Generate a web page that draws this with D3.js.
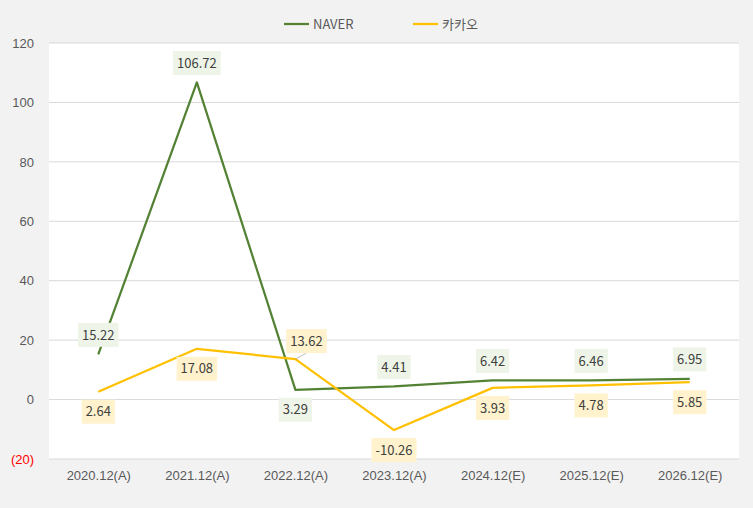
<!DOCTYPE html>
<html><head><meta charset="utf-8">
<script src="https://cdn.jsdelivr.net/npm/d3@7"></script>
<style>
html,body{margin:0;padding:0;background:#f2f2f2;}
svg{display:block;font-family:"Noto Sans CJK KR","Noto Sans",sans-serif;}
</style></head>
<body>
<svg id="chart" width="753" height="508"></svg>
<script>
const categories = ["2020.12(A)","2021.12(A)","2022.12(A)","2023.12(A)","2024.12(E)","2025.12(E)","2026.12(E)"];
const naver = [15.22, 106.72, 3.29, 4.41, 6.42, 6.46, 6.95];
const kakao = [2.64, 17.08, 13.62, -10.26, 3.93, 4.78, 5.85];
const seriesNames = ["NAVER", "카카오"];
const yTicks = [-20, 0, 20, 40, 60, 80, 100, 120];
const naverPlace = ["above","above","below","above","above","above","above"];
const kakaoPlace = ["below","below","above-right","below","below","below","below"];

const svg = d3.select("#chart");
const W = 753, H = 508;
const m = {left:49, right:14, top:43, bottom:49};
const x = d3.scalePoint().domain(categories).range([m.left, W - m.right]).padding(0.5);
const y = d3.scaleLinear().domain([-20, 120]).range([H - m.bottom, m.top]);

svg.append("rect").attr("x", m.left).attr("y", m.top)
  .attr("width", W - m.left - m.right).attr("height", H - m.top - m.bottom).attr("fill", "#fff");

// grid
svg.append("g").selectAll("line").data(yTicks).join("line")
  .attr("x1", m.left).attr("x2", W - m.right)
  .attr("y1", d => y(d)).attr("y2", d => y(d))
  .attr("stroke", "#d9d9d9").attr("stroke-width", 1);

// y axis
const yAxis = d3.axisLeft(y).tickValues(yTicks).tickSize(0).tickPadding(15)
  .tickFormat(d => d < 0 ? "(" + Math.abs(d) + ")" : d);
const ya = svg.append("g").attr("transform", `translate(${m.left},0)`).call(yAxis);
ya.select(".domain").remove();
ya.selectAll("text").attr("font-size", 13).attr("font-family", "inherit")
  .attr("fill", d => d < 0 ? "#ff0000" : "#595959");

// x axis
const xAxis = d3.axisBottom(x).tickSize(0).tickPadding(12);
const xa = svg.append("g").attr("transform", `translate(0,${H - m.bottom})`).call(xAxis);
xa.select(".domain").remove();
xa.selectAll("text").attr("font-size", 13).attr("font-family", "inherit").attr("fill", "#595959");

const series = [
  {name: seriesNames[0], values: naver, color: "#548235", bg: "#eef5e8", place: naverPlace},
  {name: seriesNames[1], values: kakao, color: "#ffc000", bg: "#fff2cc", place: kakaoPlace}
];

const line = d3.line().x((d, i) => x(categories[i])).y(d => y(d));
series.forEach(s => {
  svg.append("path").datum(s.values).attr("d", line)
    .attr("fill", "none").attr("stroke", s.color).attr("stroke-width", 2.25)
    .attr("stroke-linejoin", "round");
});

// labels
series.forEach(s => {
  const g = svg.append("g");
  s.values.forEach((v, i) => {
    const px = x(categories[i]), py = y(v);
    let cx = px, cy = py;
    const p = s.place[i];
    if (p === "above") cy = py - 19.5;
    else if (p === "below") cy = py + 20;
    else if (p === "above-right") { cx = px + 11; cy = py - 18; }
    const t = g.append("text").attr("x", cx).attr("y", cy).attr("dy", "0.36em")
      .attr("text-anchor", "middle").attr("font-size", 13).attr("fill", "#404040")
      .text(v.toFixed(2));
    const bb = t.node().getBBox();
    const bw = bb.width + 8, bh = 24;
    if (p === "above-right") {
      g.insert("line", "text").attr("x1", px).attr("y1", py).attr("x2", cx).attr("y2", cy + bh/2)
        .attr("stroke", "#a6a6a6").attr("stroke-width", 0.75);
    }
    g.insert("rect", "text").attr("x", cx - bw/2).attr("y", cy - bh/2)
      .attr("width", bw).attr("height", bh).attr("fill", s.bg);
  });
});

// legend
const leg = svg.append("g");
const legX = [284, 413];
series.forEach((s, i) => {
  leg.append("line").attr("x1", legX[i]).attr("x2", legX[i] + 25).attr("y1", 24).attr("y2", 24)
    .attr("stroke", s.color).attr("stroke-width", 2.25);
  leg.append("text").attr("x", legX[i] + 29).attr("y", 24).attr("dy", "0.36em")
    .attr("font-size", 13).attr("fill", "#595959").text(s.name);
});
</script>
</body></html>
